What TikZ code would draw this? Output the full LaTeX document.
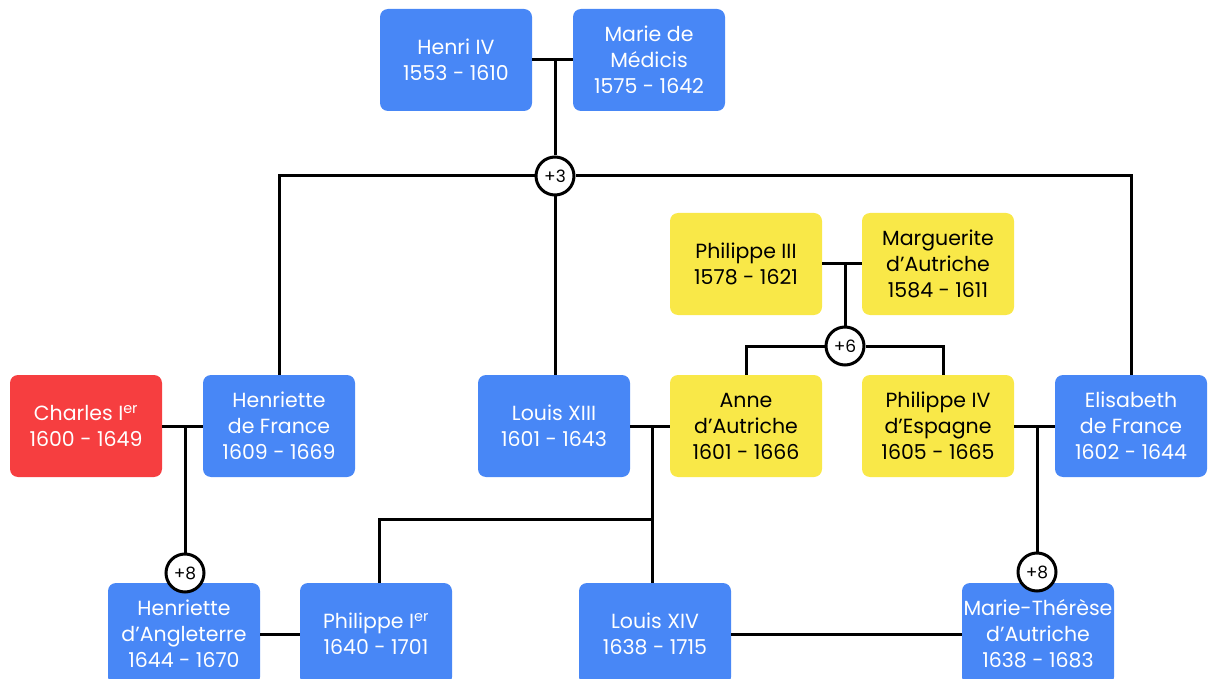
\documentclass[tikz,border=0pt]{standalone}
\usepackage{fontspec}
\setmainfont{Poppins}
\definecolor{bblue}{RGB}{72,135,246}
\definecolor{byellow}{RGB}{249,232,72}
\definecolor{bred}{RGB}{246,62,64}
\tikzset{
  person/.style={rounded corners=8pt, minimum width=152pt, minimum height=102pt, inner sep=0pt, align=center, font=\fontsize{20.5}{26}\selectfont},
  bluebox/.style={person, fill=bblue, text=white},
  yellowbox/.style={person, fill=byellow, text=black},
  redbox/.style={person, fill=bred, text=white},
  link/.style={line width=3pt, black},
  count/.style={circle, draw=black, line width=3pt, fill=white, minimum size=38pt, inner sep=0pt, font=\fontsize{17}{17}\selectfont}
}
\begin{document}
\begin{tikzpicture}[x=1pt,y=-1pt]
\useasboundingbox (0,0) rectangle (1208,679);
% boxes
\node[bluebox] (henri) at (456,60) {Henri IV\\1553 - 1610};
\node[bluebox] (marie) at (649,60) {Marie de\\Médicis\\1575 - 1642};
\node[yellowbox] (p3) at (746,264) {Philippe III\\1578 - 1621};
\node[yellowbox] (marg) at (938,264) {Marguerite\\d'Autriche\\1584 - 1611};
\node[redbox] (charles) at (86,426) {Charles I\textsuperscript{er}\\1600 - 1649};
\node[bluebox] (hf) at (279,426) {Henriette\\de France\\1609 - 1669};
\node[bluebox] (l13) at (554,426) {Louis XIII\\1601 - 1643};
\node[yellowbox] (anne) at (746,426) {Anne\\d'Autriche\\1601 - 1666};
\node[yellowbox] (p4) at (938,426) {Philippe IV\\d'Espagne\\1605 - 1665};
\node[bluebox] (elis) at (1131,426) {Elisabeth\\de France\\1602 - 1644};
\node[bluebox] (hda) at (184,634) {Henriette\\d'Angleterre\\1644 - 1670};
\node[bluebox] (p1) at (376,634) {Philippe I\textsuperscript{er}\\1640 - 1701};
\node[bluebox] (l14) at (655,634) {Louis XIV\\1638 - 1715};
\node[bluebox] (mt) at (1038,634) {Marie-Thérèse\\d'Autriche\\1638 - 1683};
% Henri IV + Marie
\coordinate (m1) at (555,60);
\draw[link] (henri.east) -- (marie.west);
\node[count] (c3) at (555,176) {+3};
\draw[link] (m1) -- (c3.north);
\draw[link] (hf.north) |- (c3.west);
\draw[link] (elis.north) |- (c3.east);
\draw[link] (c3.south) -- (c3.south |- l13.north);
% Philippe III + Marguerite
\coordinate (m2) at (845,264);
\draw[link] (p3.east) -- (marg.west);
\node[count] (c6) at (845,346) {+6};
\draw[link] (m2) -- (c6.north);
\draw[link] (anne.north) |- (c6.west);
\coordinate (p4top) at (943,375);
\draw[link] (p4top) |- (c6.east);
% Charles + Henriette
\coordinate (m3) at (185,426);
\draw[link] (charles.east) -- (hf.west);
\node[count] (c8a) at (185,573) {+8};
\draw[link] (m3) -- (c8a.north);
% Louis XIII + Anne
\coordinate (m4) at (652,426);
\coordinate (j4) at (652,519);
\draw[link] (l13.east) -- (anne.west);
\draw[link] (m4) -- (l14.north -| m4);
\coordinate (p1top) at (379,583);
\draw[link] (p1top) |- (j4);
% Philippe IV + Elisabeth
\coordinate (m5) at (1037,426);
\draw[link] (p4.east) -- (elis.west);
\node[count] (c8b) at (1037,572) {+8};
\draw[link] (m5) -- (c8b.north);
% marriages bottom row
\draw[link] (hda.east) -- (p1.west);
\draw[link] (l14.east) -- (mt.west);
\end{tikzpicture}
\end{document}
